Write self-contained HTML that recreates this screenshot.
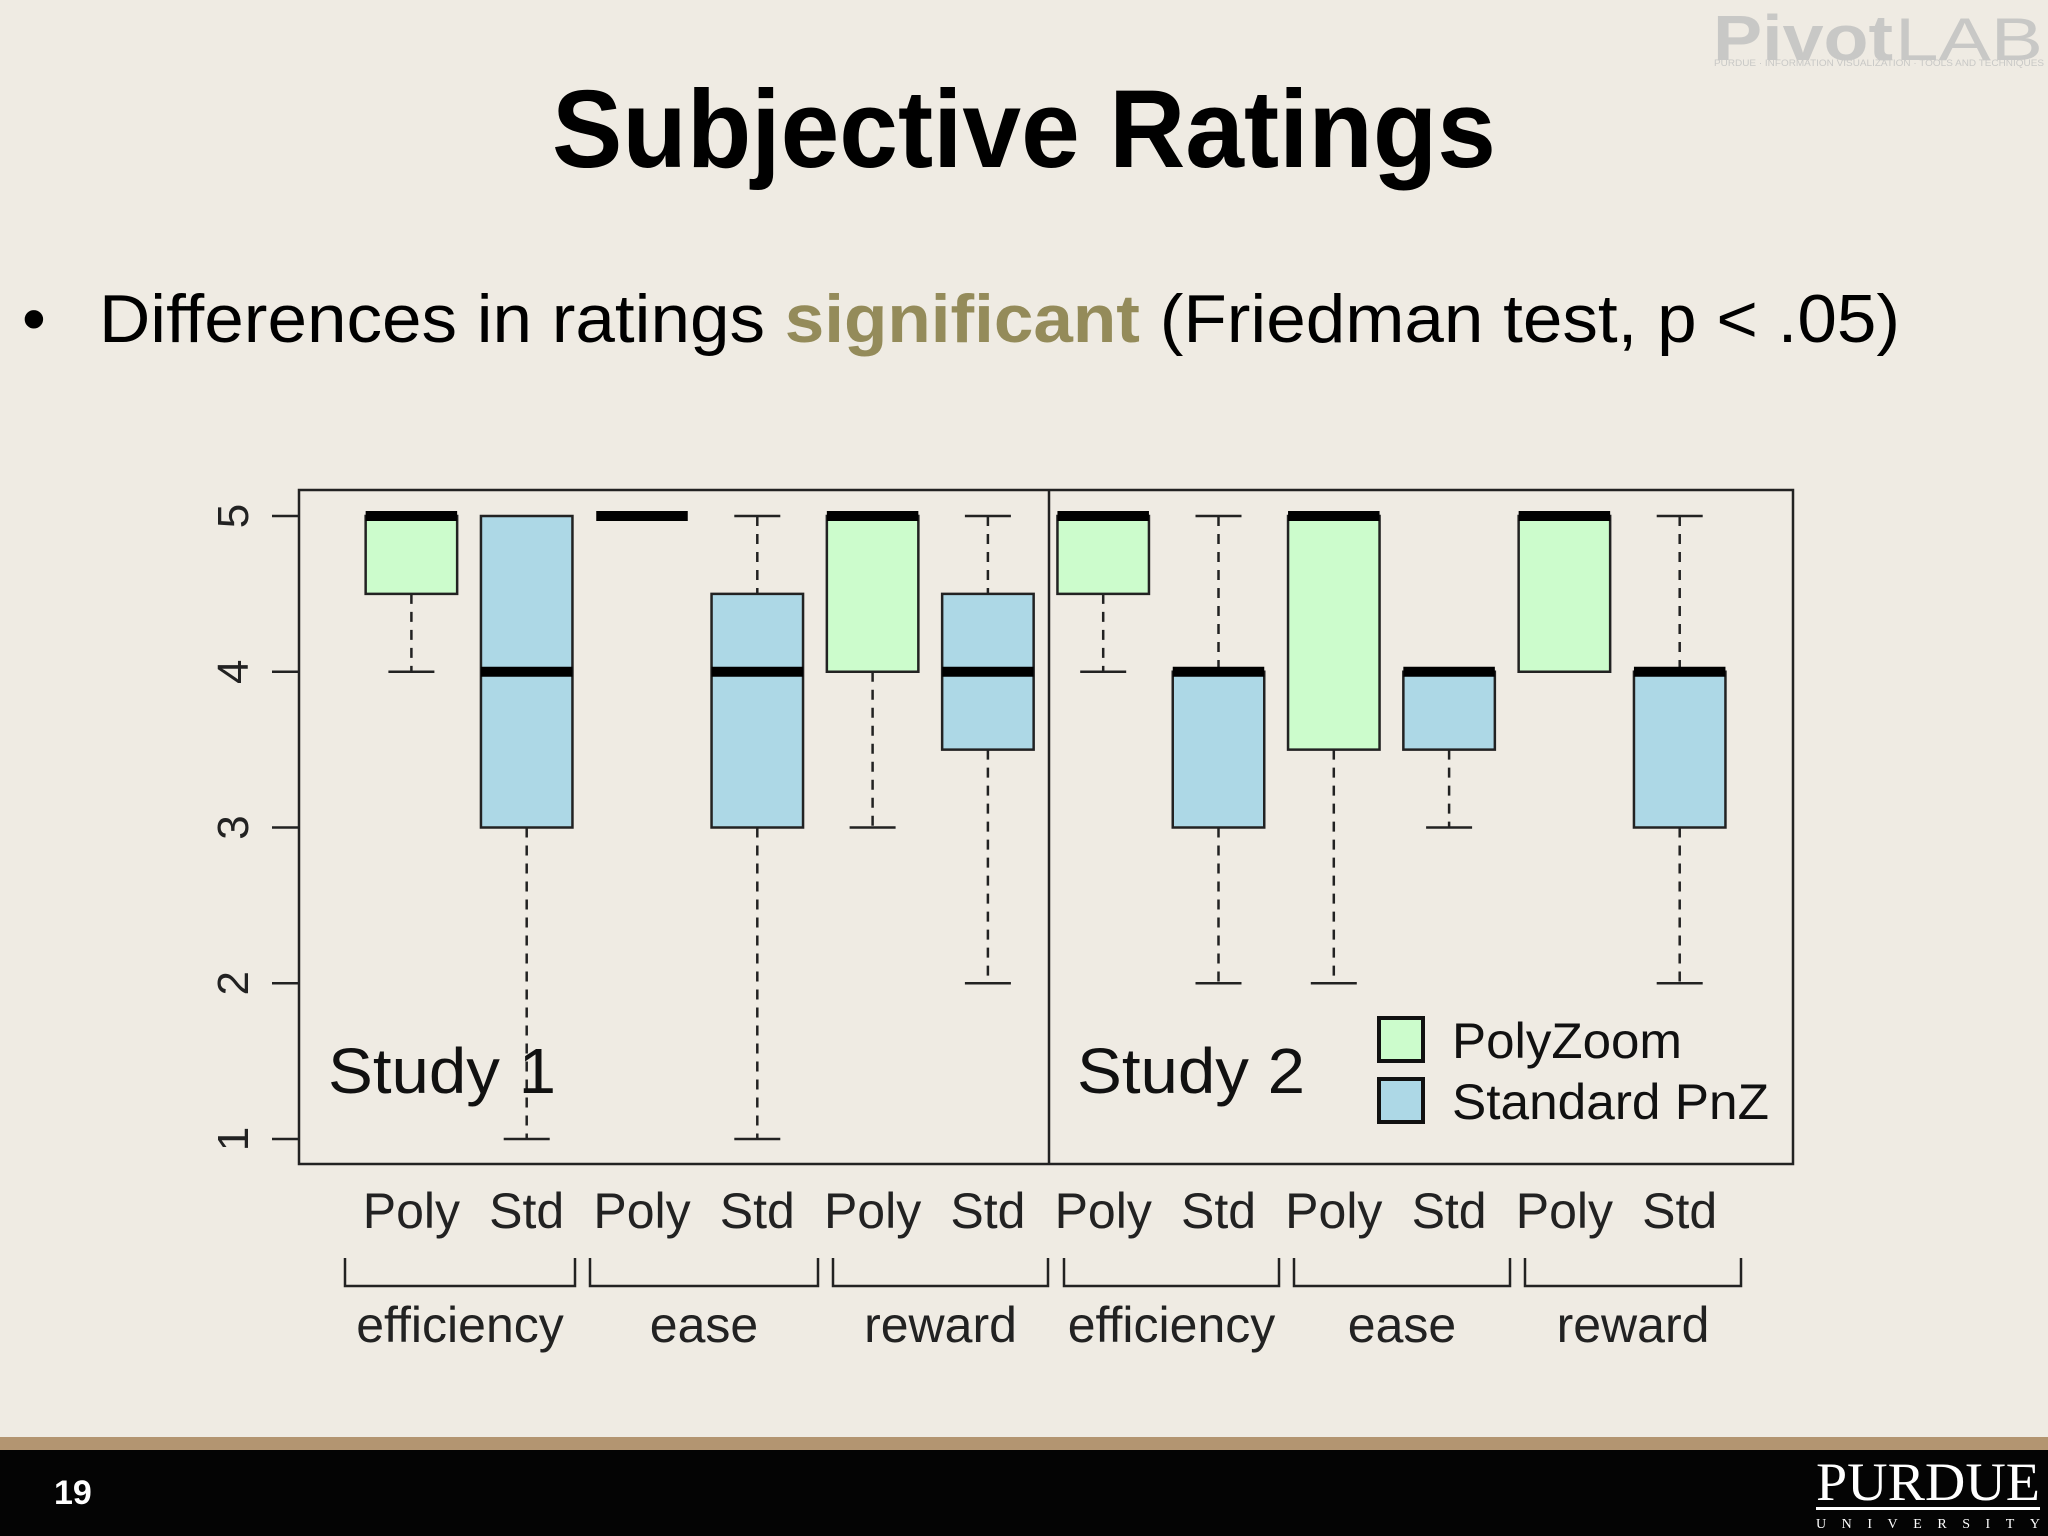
<!DOCTYPE html>
<html><head><meta charset="utf-8"><style>
html,body{margin:0;padding:0;background:#efebe3;}
svg{display:block}
</style></head><body>
<svg id="s" width="2048" height="1536" viewBox="0 0 2048 1536" xmlns="http://www.w3.org/2000/svg" font-family="Liberation Sans, sans-serif">
<rect x="0" y="0" width="2048" height="1536" fill="#efebe3"/>
<g fill="#c8c8c6">
<text x="1713" y="60" font-size="64" font-weight="bold" textLength="180" lengthAdjust="spacingAndGlyphs">Pivot</text>
<text x="1895" y="60" font-size="60" textLength="148" lengthAdjust="spacingAndGlyphs">LAB</text>
<text x="1714" y="66" font-size="9" textLength="330" lengthAdjust="spacingAndGlyphs">PURDUE · INFORMATION VISUALIZATION · TOOLS AND TECHNIQUES</text>
</g>
<text x="1024" y="167" text-anchor="middle" font-size="110" font-weight="bold" fill="#000" textLength="944" lengthAdjust="spacingAndGlyphs">Subjective Ratings</text>
<text x="22" y="342" font-size="68" fill="#000">•</text>
<text x="99" y="342" font-size="68" fill="#000" textLength="1801" lengthAdjust="spacingAndGlyphs">Differences in ratings <tspan fill="#948b5a" font-weight="bold">significant</tspan> (Friedman test, p &lt; .05)</text>
<g id="chart"></g>
<rect x="0" y="1437" width="2048" height="13" fill="#b39571"/>
<rect x="0" y="1450" width="2048" height="86" fill="#040404"/>
<text x="54" y="1504" font-size="34" font-weight="bold" fill="#fff">19</text>
<g fill="#fff">
<text x="1816" y="1500" font-family="Liberation Serif, serif" font-size="54" textLength="224" lengthAdjust="spacingAndGlyphs">PURDUE</text>
<rect x="1816" y="1507" width="224" height="3"/>
<text x="1816" y="1528" font-family="Liberation Serif, serif" font-size="14" textLength="224" lengthAdjust="spacing">UNIVERSITY</text>
</g>
</svg>
<script>
const categories=["efficiency","ease","reward","efficiency","ease","reward"];
const series=["Poly","Std"];
const lowWhisker=[4,1,5,1,3,2, 4,2,2,3,4,2];
const q1=[4.5,3,5,3,4,3.5, 4.5,3,3.5,3.5,4,3];
const medians=[5,4,5,4,5,4, 5,4,5,4,5,4];
const q3=[5,5,5,4.5,5,4.5, 5,4,5,4,5,4];
const highWhisker=[5,5,5,5,5,5, 5,5,5,4,5,5];
const yTicks=[1,2,3,4,5];
const NS="http://www.w3.org/2000/svg";
const g=document.getElementById('chart');
const X0=299,X1=1793,Y0=490,Y1=1164;
const y=v=>516+(5-v)*155.75;
const xc=i=>411.4+i*115.3;
const BW=91.5;
function mk(t,a,p){const e=document.createElementNS(NS,t);for(const k in a)e.setAttribute(k,a[k]);(p||g).appendChild(e);return e;}
let frame=mk('rect',{x:X0,y:Y0,width:X1-X0,height:Y1-Y0,fill:'none',stroke:'#222','stroke-width':2.5});


let dv=mk('line',{x1:1049,x2:1049,y1:Y0,y2:Y1,stroke:'#222','stroke-width':2.5});


yTicks.forEach(t=>{
 let l=mk('line',{x1:272,x2:X0,y1:y(t),y2:y(t),stroke:'#222','stroke-width':2.5});
 
 
 let tx=mk('text',{x:0,y:0,'font-size':44,'text-anchor':'middle',fill:'#222',transform:`translate(248,${y(t)}) rotate(-90)`});
 tx.textContent=t;
 
 
});
for(let i=0;i<12;i++){
 const cx=xc(i),col=i%2==0?'#ccfccc':'#add8e6';
 const bg=mk('g',{});
 
 
 if(highWhisker[i]>q3[i]){mk('line',{x1:cx,x2:cx,y1:y(highWhisker[i]),y2:y(q3[i]),stroke:'#222','stroke-width':2.5,'stroke-dasharray':'10 8'},bg);mk('line',{x1:cx-23,x2:cx+23,y1:y(highWhisker[i]),y2:y(highWhisker[i]),stroke:'#222','stroke-width':2.5},bg);}
 if(lowWhisker[i]<q1[i]){mk('line',{x1:cx,x2:cx,y1:y(q1[i]),y2:y(lowWhisker[i]),stroke:'#222','stroke-width':2.5,'stroke-dasharray':'10 8'},bg);mk('line',{x1:cx-23,x2:cx+23,y1:y(lowWhisker[i]),y2:y(lowWhisker[i]),stroke:'#222','stroke-width':2.5},bg);}
 if(q3[i]>q1[i])mk('rect',{x:cx-BW/2,y:y(q3[i]),width:BW,height:y(q1[i])-y(q3[i]),fill:col,stroke:'#222','stroke-width':2.5},bg);
 mk('line',{x1:cx-BW/2,x2:cx+BW/2,y1:y(medians[i]),y2:y(medians[i]),stroke:'#000','stroke-width':10},bg);
 let lb=mk('text',{x:cx,y:1228,'font-size':50,'text-anchor':'middle',fill:'#222'});
 lb.textContent=series[i%2];
 
 
}
const gx=[[345,575],[590,818],[833,1048],[1064,1279],[1294,1510],[1525,1741]];
categories.forEach((c,k)=>{
 const [a,b]=gx[k];
 let p=mk('path',{d:`M${a} 1258V1286H${b}V1258`,fill:'none',stroke:'#222','stroke-width':2.5});
 
 
 let t=mk('text',{x:(a+b)/2,y:1342,'font-size':50,'text-anchor':'middle',fill:'#222'});
 t.textContent=c;
 
 
});
[["Study 1",328],["Study 2",1077]].forEach(([s,x])=>{
 let t=mk('text',{x:x,y:1093,'font-size':64,fill:'#111',textLength:228,lengthAdjust:'spacingAndGlyphs'});
 t.textContent=s;
 
 
});
[["PolyZoom",'#ccfccc',1018,230],["Standard PnZ",'#add8e6',1079,317]].forEach(([s,c,yy,w])=>{
 let r=mk('rect',{x:1379,y:yy,width:44,height:43,fill:c,stroke:'#111','stroke-width':4});
 
 
 let t=mk('text',{x:1452,y:yy+40,'font-size':50,fill:'#111',textLength:w,lengthAdjust:'spacingAndGlyphs'});
 t.textContent=s;
 
 
});
</script>
</body></html>
